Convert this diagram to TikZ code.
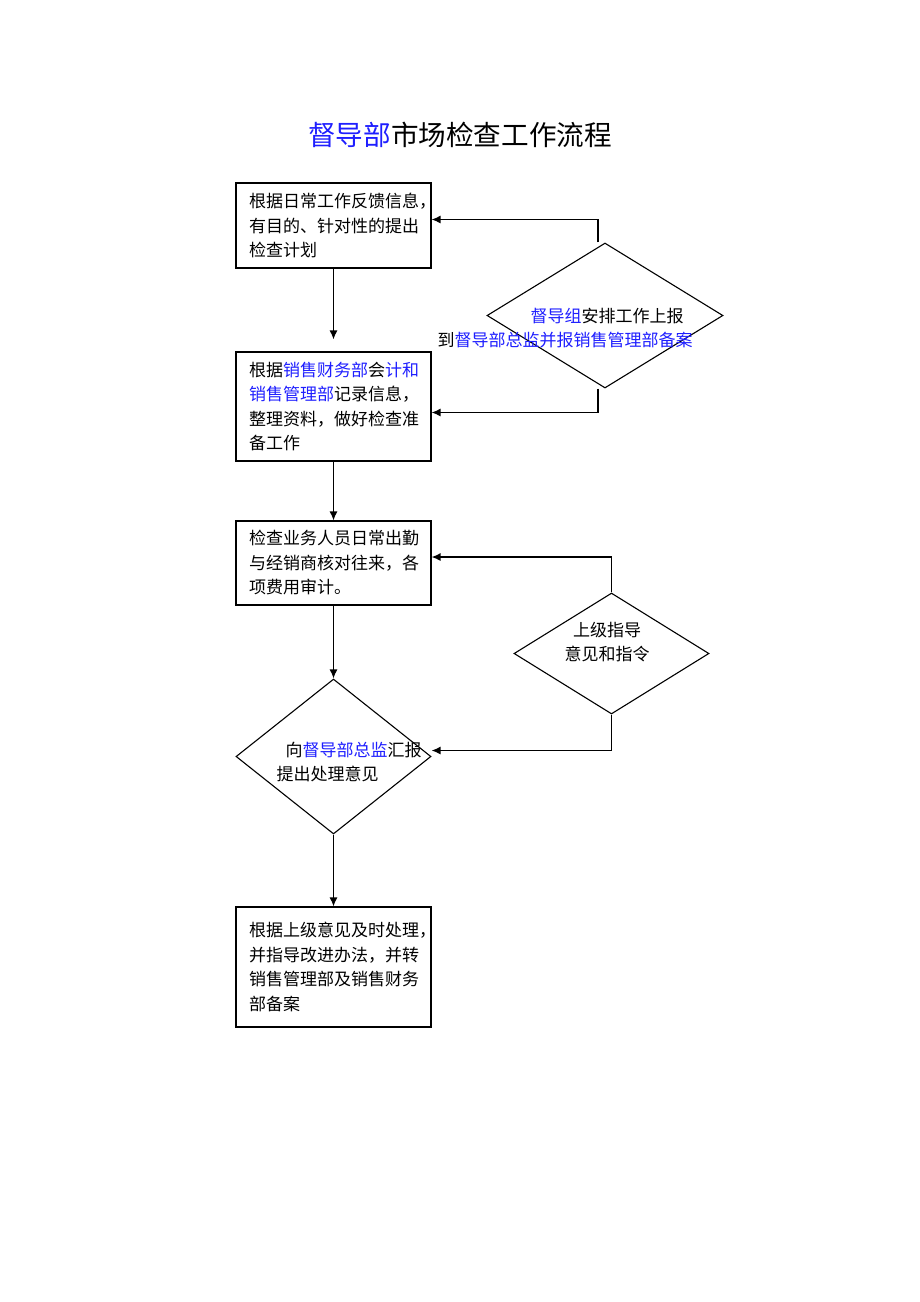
\documentclass[tikz,border=0pt]{standalone}
\usepackage{fontspec}
\setmainfont{Noto Sans CJK SC}
\usetikzlibrary{shapes.geometric,arrows.meta}
\definecolor{dblue}{RGB}{30,30,255}
\newcommand{\bl}[1]{\textcolor{dblue}{#1}}

\begin{document}
\begin{tikzpicture}[x=1pt,y=-1pt,line width=1.1pt,
  box/.style={draw,rectangle,minimum width=195pt,text width=169pt,inner xsep=13pt,align=left,font=\fontsize{17pt}{24.5pt}\selectfont},
  choice/.style={draw,diamond,inner sep=0pt},
  txt/.style={inner sep=0pt,align=left,font=\fontsize{17pt}{24.5pt}\selectfont},
  arr/.style={-{Latex[length=9pt,width=8pt]},line width=1.4pt}]
  \useasboundingbox (0,0) rectangle (920,1302);

  \node[font=\fontsize{27.6pt}{30pt}\selectfont] (title) at (460,135) {\bl{督导部}市场检查工作流程};

  \node[box,minimum height=85pt] (plan) at (333.5,225.5) {根据日常工作反馈信息，\\有目的、针对性的提出\\检查计划};
  \node[box,minimum height=109pt] (prep) at (333.5,406.5) {根据\bl{销售财务部}会\bl{计和}\\\bl{销售管理部}记录信息，\\整理资料，做好检查准\\备工作};
  \node[box,minimum height=84pt] (check) at (333.5,563) {检查业务人员日常出勤\\与经销商核对往来，各\\项费用审计。};
  \node[choice,minimum width=195pt,minimum height=155pt] (report) at (333.5,756.5) {};
  \node[box,minimum height=120pt] (handle) at (333.5,967) {根据上级意见及时处理，\\并指导改进办法，并转\\销售管理部及销售财务\\部备案};

  \node[choice,minimum width=236pt,minimum height=145pt] (arrange) at (605,315.5) {};
  \node[choice,minimum width=195pt,minimum height=121pt] (guide) at (611.5,653.5) {};

  % diamond texts
  \node[txt,anchor=west] (arrangetext) at (437,328) {\hspace*{93pt}\bl{督导组}安排工作上报\\到\bl{督导部总监并报销售管理部备案}};
  \node[txt,anchor=west] (reporttext) at (276,762) {\hspace*{9pt}向\bl{督导部总监}汇报\\提出处理意见};
  \node[txt,align=center] (guidetext) at (607,642) {上级指导\\意见和指令};

  \draw[arr,shorten >=12pt] (plan) -- (prep);
  \draw[arr] (prep) -- (check);
  \draw[arr] (check) -- (report);
  \draw[arr] (report) -- (handle);

  \draw[arr] ([xshift=-7pt]arrange.north) |- ([yshift=6pt]plan.east);
  \draw[arr] ([xshift=-7pt]arrange.south) |- ([yshift=-6pt]prep.east);
  \draw[arr] (guide.north) |- ([yshift=6pt]check.east);
  \draw[arr] (guide.south) |- ([yshift=6pt]report.east);
\end{tikzpicture}
\end{document}
